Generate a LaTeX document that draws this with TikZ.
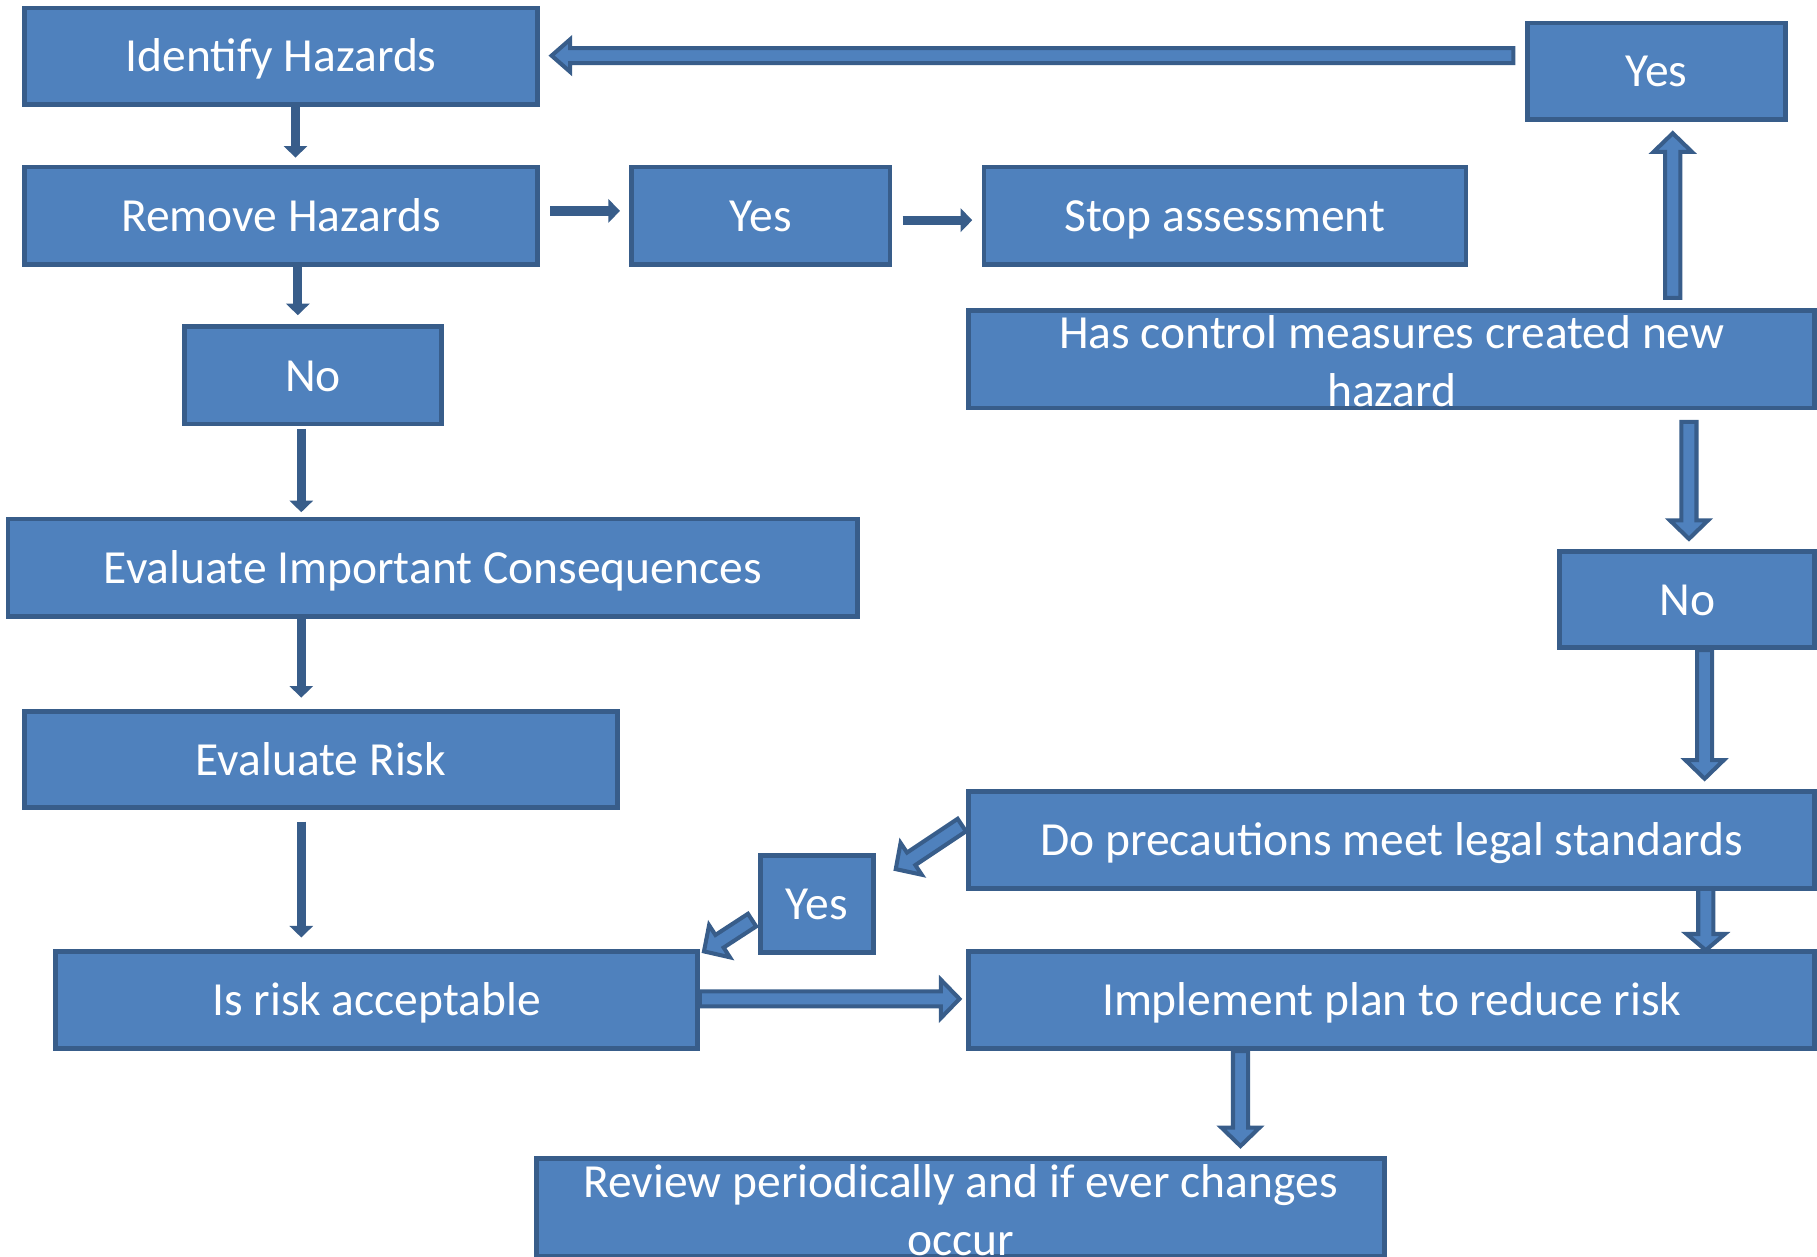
\documentclass[tikz,border=0pt]{standalone}
\usepackage{fontspec}
\setmainfont{Carlito}
\usetikzlibrary{calc,arrows.meta}
\definecolor{bfill}{HTML}{4F81BD}
\definecolor{bdr}{HTML}{385D8A}
\newcommand\bash{6.5pt}
\newcommand\bahw{16.5pt}
\newcommand\bahl{16pt}
\tikzset{
 flowbase/.style={draw=bdr, fill=bfill, line width=4pt, text=white,
   font=\fontsize{41}{50}\selectfont, minimum width=#1, minimum height=84,
   inner sep=0pt, align=center},
 flowbox/.style={flowbase=#1, text height=34pt, text depth=7pt},
 flowtwo/.style={flowbase=#1, inner ysep=-10pt},
 tarrow/.style={draw=bdr, line width=8pt, -{Triangle[length=10pt,width=20pt]}},
 barrow/.style={draw=bdr, fill=bfill, line width=3.5pt, line join=miter},
 shaftw/.code={\renewcommand\bash{#1}},
 headw/.code={\renewcommand\bahw{#1}},
 headl/.code={\renewcommand\bahl{#1}},
}
\newcommand\blockarrow[3][]{%
 \begin{scope}[#1]
 \coordinate (ba-a) at #2;
 \coordinate (ba-b) at #3;
 \coordinate (ba-c) at ($(ba-b)!\bahl!(ba-a)$);
 \draw[barrow] ($(ba-a)!\bash!90:(ba-b)$) -- ($(ba-c)!\bash!90:(ba-b)$)
   -- ($(ba-c)!\bahw!90:(ba-b)$) -- (ba-b) -- ($(ba-c)!\bahw!-90:(ba-b)$)
   -- ($(ba-c)!\bash!-90:(ba-b)$) -- ($(ba-a)!\bash!-90:(ba-b)$) -- cycle;
 \end{scope}}
\begin{document}
\begin{tikzpicture}[x=1pt,y=-1pt]
\useasboundingbox (0,0) rectangle (1568,1084);
% boxes
\node[flowbox=443, minimum height=83] (ident) at (242.5,48.5) {Identify Hazards};
\node[flowbox=443] (remove) at (242.5,186) {Remove Hazards};
\node[flowbox=223] (yes1) at (656.5,186) {Yes};
\node[flowbox=416] (stop) at (1057,186) {Stop assessment};
\node[flowbox=223, minimum height=83] (yes2) at (1429.5,61.5) {Yes};
\node[flowtwo=730] (hascm) at (1201,310) {};
\node[white, font=\fontsize{41}{50}\selectfont, align=center, inner sep=0pt] (hascmtext) at (1201,311.5) {Has control measures created new\\hazard};
\node[flowbox=222] (no1) at (270,324) {No};
\node[flowbox=733] (evalc) at (373.5,490) {Evaluate Important Consequences};
\node[flowbox=512, minimum height=83] (evalr) at (277,655.5) {Evaluate Risk};
\node[flowbox=220, minimum height=83] (no2) at (1456,517.5) {No};
\node[flowbox=730] (doprec) at (1201,725) {Do precautions meet legal standards};
\node[flowbox=98] (yes3) at (705,780) {Yes};
\node[flowbox=554] (isrisk) at (325,863) {Is risk acceptable};
\node[flowbox=730] (impl) at (1201,863) {Implement plan to reduce risk};
\node[flowtwo=732] (review) at (829,1042) {};
\node[white, font=\fontsize{41}{50}\selectfont, align=center, inner sep=0pt] (reviewtext) at (829,1044) {Review periodically and if ever changes\\occur};
% thin arrows
\draw[tarrow] (ident.south -| 255,0) -- ($(remove.north -| 255,0)+(0,-6)$);
\draw[tarrow] (remove.south -| 257,0) -- ($(no1.north -| 257,0)+(0,-8)$);
\draw[tarrow] ($(no1.south -| 260,0)+(0,2)$) -- ($(evalc.north -| 260,0)+(0,-4)$);
\draw[tarrow] (evalc.south -| 260,0) -- ($(evalr.north -| 260,0)+(0,-10)$);
\draw[tarrow] ($(evalr.south -| 260,0)+(0,10)$) -- ($(isrisk.north -| 260,0)+(0,-10)$);
\draw[tarrow] ($(remove.east |- 0,182)+(9,0)$) -- ($(yes1.west |- 0,182)+(-8,0)$);
\draw[tarrow] ($(yes1.east |- 0,190)+(9,0)$) -- ($(stop.west |- 0,190)+(-8,0)$);
% block arrows
\blockarrow[headw=14pt]{($(yes2.west |- 0,48)+(-10,0)$)}{($(ident.east |- 0,48)+(10,0)$)}
\blockarrow{($(hascm.north -| 1443.5,0)+(0,-9)$)}{($(yes2.south -| 1443.5,0)+(0,10)$)}
\blockarrow{($(hascm.south -| 1457.5,0)+(0,10)$)}{($(no2.north -| 1457.5,0)+(0,-9)$)}
\blockarrow{(no2.south -| 1471,0)}{($(doprec.north -| 1471,0)+(0,-9)$)}
\blockarrow[headl=14pt]{($(doprec.south -| 1472,0)+(0,-2)$)}{($(impl.north -| 1472,0)+(0,1)$)}
\blockarrow{(impl.south -| 1070.5,0)}{($(review.north -| 1070.5,0)+(0,-9)$)}
\blockarrow{(isrisk.east |- 0,862)}{($(impl.west |- 0,862)+(-6,0)$)}
\blockarrow{($(doprec.west)+(-4,-13)$)}{($(yes3.north east)+(17,14)$)}
\blockarrow{($(yes3.west)+(-5,14)$)}{($(isrisk.north east)+(3.5,2)$)}
\end{tikzpicture}
\end{document}
